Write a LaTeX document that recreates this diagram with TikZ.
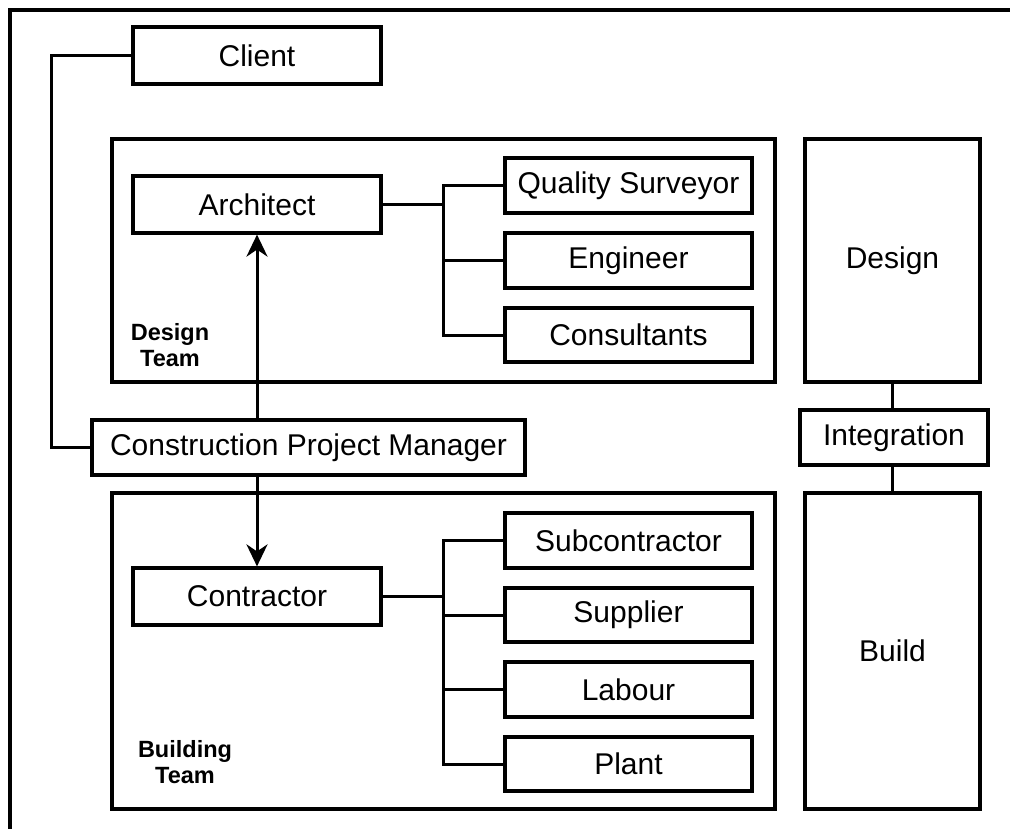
\documentclass[tikz,border=0pt]{standalone}
\usepackage{fontspec}
\setmainfont{Liberation Sans}
\usetikzlibrary{arrows.meta}

\begin{document}
\begin{tikzpicture}[x=1pt,y=-1pt,
  wire/.style={line width=3pt},
  box/.style={draw, line width=3.2pt, rectangle, inner sep=0pt,
    font=\fontsize{30}{35}\selectfont},
  teamlabel/.style={font=\bfseries\fontsize{23.5}{26}\selectfont, align=center},
  link/.style={line width=3pt, -{Stealth[length=22pt,width=21pt,inset=7pt]}}]

\useasboundingbox (0,0) rectangle (1010,829);

% outer frame
\coordinate (frameBL) at (10,829);
\coordinate (frameTL) at (10,10);
\coordinate (frameTR) at (1010,10);
\draw[line width=3.2pt] (frameBL) -- (frameTL) -- (frameTR);

% team containers
\node[box, minimum width=663pt, minimum height=243pt] (designteam) at (443.5,260.5) {};
\node[box, minimum width=663pt, minimum height=316pt] (buildteam) at (443.5,651) {};
\node[teamlabel] (dtlabel) at (170,345) {Design\\Team};
\node[teamlabel] (btlabel) at (185,762) {Building\\Team};

% main boxes
\node[box, minimum width=248pt, minimum height=57pt] (client) at (257,55.5) {Client};
\node[box, minimum width=248pt, minimum height=57pt] (architect) at (257,204.5) {Architect};
\node[box, minimum width=433pt, minimum height=55pt] (cpm) at (308.5,447.5) {Construction Project Manager};
\node[box, minimum width=248pt, minimum height=57pt] (contractor) at (257,596.5) {Contractor};

% design team members
\node[box, minimum width=247pt, minimum height=55pt] (qs) at (628.5,185.5) {Quality Surveyor};
\node[box, minimum width=247pt, minimum height=55pt] (eng) at (628.5,260.5) {Engineer};
\node[box, minimum width=247pt, minimum height=54pt] (cons) at (628.5,335) {Consultants};

% building team members
\node[box, minimum width=247pt, minimum height=55pt] (sub) at (628.5,540.5) {Subcontractor};
\node[box, minimum width=247pt, minimum height=54pt] (sup) at (628.5,615) {Supplier};
\node[box, minimum width=247pt, minimum height=55pt] (lab) at (628.5,689.5) {Labour};
\node[box, minimum width=247pt, minimum height=54pt] (plant) at (628.5,764) {Plant};

% phases
\node[box, minimum width=175pt, minimum height=243pt] (design) at (892.5,260.5) {Design};
\node[box, minimum width=188pt, minimum height=55pt] (integ) at (894,437.5) {Integration};
\node[box, minimum width=175pt, minimum height=316pt] (build) at (892.5,651) {Build};

% client to project manager
\coordinate (cbend) at (51,0);
\draw[wire] (client.west) -| (cbend |- cpm.west) -- (cpm.west);

% project manager to architect and contractor
\draw[link] (architect.south |- cpm.north) -- (architect.south);
\draw[link] (contractor.north |- cpm.south) -- (contractor.north);

% architect branches
\coordinate (abus) at (443,0);
\draw[wire] (architect.east) -- (abus |- architect.east);
\draw[wire] (qs.west) -| (abus |- cons.west) -- (cons.west);
\draw[wire] (abus |- eng.west) -- (eng.west);

% contractor branches
\draw[wire] (contractor.east) -- (abus |- contractor.east);
\draw[wire] (sub.west) -| (abus |- plant.west) -- (plant.west);
\draw[wire] (abus |- sup.west) -- (sup.west);
\draw[wire] (abus |- lab.west) -- (lab.west);

% phase links
\draw[wire] (design.south) -- (design.south |- integ.north);
\draw[wire] (build.north) -- (build.north |- integ.south);

\end{tikzpicture}
\end{document}
